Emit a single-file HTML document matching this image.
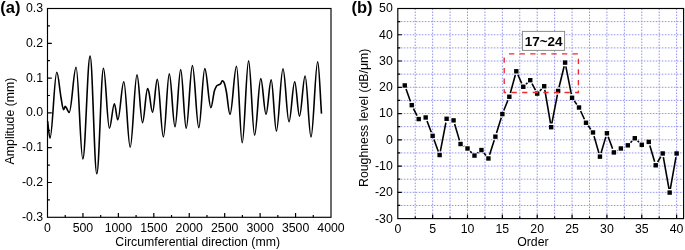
<!DOCTYPE html>
<html><head><meta charset="utf-8"><style>
html,body{margin:0;padding:0;background:#fff;}
svg{display:block;will-change:transform;}
text{font-family:"Liberation Sans", sans-serif;font-size:12.3px;fill:#000;}
</style></head><body>
<svg width="685" height="250" viewBox="0 0 685 250">
<rect width="685" height="250" fill="#fff"/>
<path d="M65.22 217.30V214.90M82.94 217.30V213.00M100.66 217.30V214.90M118.38 217.30V213.00M136.09 217.30V214.90M153.81 217.30V213.00M171.53 217.30V214.90M189.25 217.30V213.00M206.97 217.30V214.90M224.69 217.30V213.00M242.41 217.30V214.90M260.12 217.30V213.00M277.84 217.30V214.90M295.56 217.30V213.00M313.28 217.30V214.90M47.50 199.90H49.90M47.50 182.50H51.80M47.50 165.10H49.90M47.50 147.70H51.80M47.50 130.30H49.90M47.50 112.90H51.80M47.50 95.50H49.90M47.50 78.10H51.80M47.50 60.70H49.90M47.50 43.30H51.80M47.50 25.90H49.90" stroke="#000" stroke-width="1.2" fill="none"/>
<rect x="47.5" y="8.5" width="283.50" height="208.80" fill="none" stroke="#000" stroke-width="1.15"/>
<text x="47.50" y="232.1" text-anchor="middle">0</text>
<text x="82.94" y="232.1" text-anchor="middle">500</text>
<text x="118.38" y="232.1" text-anchor="middle">1000</text>
<text x="153.81" y="232.1" text-anchor="middle">1500</text>
<text x="189.25" y="232.1" text-anchor="middle">2000</text>
<text x="224.69" y="232.1" text-anchor="middle">2500</text>
<text x="260.12" y="232.1" text-anchor="middle">3000</text>
<text x="295.56" y="232.1" text-anchor="middle">3500</text>
<text x="331.00" y="232.1" text-anchor="middle">4000</text>
<text x="43.1" y="220.80" text-anchor="end">-0.3</text>
<text x="43.1" y="186.00" text-anchor="end">-0.2</text>
<text x="43.1" y="151.20" text-anchor="end">-0.1</text>
<text x="43.1" y="116.40" text-anchor="end">0.0</text>
<text x="43.1" y="81.60" text-anchor="end">0.1</text>
<text x="43.1" y="46.80" text-anchor="end">0.2</text>
<text x="43.1" y="12.00" text-anchor="end">0.3</text>
<text x="197.7" y="246.1" text-anchor="middle">Circumferential direction (mm)</text>
<text transform="translate(14.2 121) rotate(-90)" text-anchor="middle">Amplitude (mm)</text>
<text x="0.3" y="13.0" style="font-weight:bold;font-size:16.5px">(a)</text>
<path d="M47.60 121.00C48.40 126.73 49.14 138.20 50.00 138.20C52.45 138.20 54.35 72.30 56.80 72.30C58.31 72.30 59.60 89.78 61.00 97.50C61.87 102.28 62.66 109.80 63.60 109.80C64.18 109.80 64.62 106.30 65.20 106.30C65.67 106.30 66.07 107.34 66.50 108.00C67.40 109.37 68.23 112.40 69.20 112.40C71.68 112.40 73.62 67.30 76.10 67.30C78.51 67.30 80.39 159.00 82.80 159.00C85.43 159.00 87.47 56.10 90.10 56.10C92.51 56.10 94.39 173.80 96.80 173.80C99.21 173.80 101.09 68.20 103.50 68.20C105.62 68.20 107.28 128.20 109.40 128.20C111.20 128.20 112.60 103.80 114.40 103.80C115.62 103.80 116.58 119.80 117.80 119.80C119.96 119.80 121.64 81.70 123.80 81.70C126.10 81.70 127.90 147.20 130.20 147.20C132.65 147.20 134.55 74.90 137.00 74.90C138.98 74.90 140.52 122.60 142.50 122.60C144.34 122.60 145.76 88.60 147.60 88.60C148.18 88.60 148.67 90.92 149.20 93.50C150.30 98.82 151.31 112.30 152.50 112.30C154.23 112.30 155.57 79.40 157.30 79.40C159.50 79.40 161.20 137.00 163.40 137.00C165.52 137.00 167.18 73.90 169.30 73.90C171.35 73.90 172.95 126.80 175.00 126.80C177.05 126.80 178.65 69.50 180.70 69.50C182.68 69.50 184.22 128.20 186.20 128.20C188.43 128.20 190.17 65.60 192.40 65.60C194.70 65.60 196.50 127.60 198.80 127.60C200.96 127.60 202.64 68.60 204.80 68.60C207.00 68.60 208.70 107.60 210.90 107.60C212.12 107.60 213.17 95.63 214.30 91.20C214.97 88.60 215.63 87.64 216.30 86.50C216.80 85.64 217.30 85.52 217.80 85.20C218.30 84.88 218.80 84.90 219.30 84.60C219.80 84.30 220.30 84.06 220.80 83.40C221.27 82.79 221.70 80.80 222.20 80.80C222.56 80.80 222.87 80.85 223.20 81.30C223.70 81.98 224.20 82.50 224.70 84.20C225.30 86.24 225.90 89.08 226.50 92.50C227.67 99.15 228.74 114.40 230.00 114.40C232.34 114.40 234.16 66.30 236.50 66.30C238.55 66.30 240.15 142.80 242.20 142.80C244.50 142.80 246.30 60.90 248.60 60.90C250.76 60.90 252.44 135.20 254.60 135.20C256.83 135.20 258.57 78.60 260.80 78.60C262.67 78.60 264.13 114.20 266.00 114.20C267.87 114.20 269.33 79.90 271.20 79.90C273.07 79.90 274.53 131.00 276.40 131.00C278.78 131.00 280.62 68.70 283.00 68.70C285.16 68.70 286.84 121.80 289.00 121.80C291.05 121.80 292.65 81.70 294.70 81.70C296.43 81.70 297.77 116.10 299.50 116.10C301.52 116.10 303.08 76.00 305.10 76.00C307.22 76.00 308.88 137.00 311.00 137.00C313.41 137.00 315.29 61.70 317.70 61.70C319.07 61.70 320.23 96.30 321.50 113.60" stroke="#000" stroke-width="1.6" fill="none" stroke-linejoin="round"/>
<path d="M415.23 8.50V218.60M432.65 8.50V218.60M450.08 8.50V218.60M467.51 8.50V218.60M484.93 8.50V218.60M502.36 8.50V218.60M519.79 8.50V218.60M537.21 8.50V218.60M554.64 8.50V218.60M572.07 8.50V218.60M589.50 8.50V218.60M606.92 8.50V218.60M624.35 8.50V218.60M641.78 8.50V218.60M659.20 8.50V218.60M676.63 8.50V218.60" stroke="#9494ee" stroke-width="1" stroke-dasharray="1.6 1.4" fill="none"/>
<path d="M397.80 205.47H683.60M397.80 192.34H683.60M397.80 179.21H683.60M397.80 166.07H683.60M397.80 152.94H683.60M397.80 139.81H683.60M397.80 126.68H683.60M397.80 113.55H683.60M397.80 100.42H683.60M397.80 87.29H683.60M397.80 74.16H683.60M397.80 61.02H683.60M397.80 47.89H683.60M397.80 34.76H683.60M397.80 21.63H683.60" stroke="#9494ee" stroke-width="1" stroke-dasharray="1.6 1.4" fill="none"/>
<path d="M415.23 218.60V216.40M432.65 218.60V214.60M450.08 218.60V216.40M467.51 218.60V214.60M484.93 218.60V216.40M502.36 218.60V214.60M519.79 218.60V216.40M537.21 218.60V214.60M554.64 218.60V216.40M572.07 218.60V214.60M589.50 218.60V216.40M606.92 218.60V214.60M624.35 218.60V216.40M641.78 218.60V214.60M659.20 218.60V216.40M676.63 218.60V214.60M397.80 205.47H400.20M397.80 192.34H401.80M397.80 179.21H400.20M397.80 166.07H401.80M397.80 152.94H400.20M397.80 139.81H401.80M397.80 126.68H400.20M397.80 113.55H401.80M397.80 100.42H400.20M397.80 87.29H401.80M397.80 74.16H400.20M397.80 61.02H401.80M397.80 47.89H400.20M397.80 34.76H401.80M397.80 21.63H400.20" stroke="#000" stroke-width="1.2" fill="none"/>
<rect x="397.8" y="8.5" width="285.80" height="210.10" fill="none" stroke="#000" stroke-width="1.15"/>
<text x="397.80" y="232.9" text-anchor="middle">0</text>
<text x="432.65" y="232.9" text-anchor="middle">5</text>
<text x="467.51" y="232.9" text-anchor="middle">10</text>
<text x="502.36" y="232.9" text-anchor="middle">15</text>
<text x="537.21" y="232.9" text-anchor="middle">20</text>
<text x="572.07" y="232.9" text-anchor="middle">25</text>
<text x="606.92" y="232.9" text-anchor="middle">30</text>
<text x="641.78" y="232.9" text-anchor="middle">35</text>
<text x="676.63" y="232.9" text-anchor="middle">40</text>
<text x="392.8" y="222.50" text-anchor="end">-30</text>
<text x="392.8" y="196.24" text-anchor="end">-20</text>
<text x="392.8" y="169.97" text-anchor="end">-10</text>
<text x="392.8" y="143.71" text-anchor="end">0</text>
<text x="392.8" y="117.45" text-anchor="end">10</text>
<text x="392.8" y="91.19" text-anchor="end">20</text>
<text x="392.8" y="64.92" text-anchor="end">30</text>
<text x="392.8" y="38.66" text-anchor="end">40</text>
<text x="392.8" y="12.40" text-anchor="end">50</text>
<text x="532.9" y="246.4" text-anchor="middle">Order</text>
<text transform="translate(367.6 117.8) rotate(-90)" text-anchor="middle">Roughness level (dB/μm)</text>
<text x="351.5" y="13.0" style="font-weight:bold;font-size:16.5px">(b)</text>
<path d="M406.04 89.03L410.47 101.56M413.44 108.54L417.01 115.67M427.03 121.04L431.31 132.32M433.95 139.44L438.33 151.47M440.34 151.31L445.88 122.53M454.64 124.02L459.46 140.37M463.74 146.06L464.31 146.43M470.17 151.19L471.81 152.86M477.46 153.21L478.47 152.41M483.87 152.98L485.99 155.53M489.58 154.84L494.23 140.28M496.51 133.03L501.24 117.71M503.78 110.55L507.91 100.27M510.33 93.08L515.30 74.93M517.86 74.73L521.71 83.30M526.04 84.16L527.48 82.80M532.00 83.57L535.46 90.22M539.83 90.83L541.57 88.99M544.82 89.98L550.52 123.46M551.87 123.47L557.41 94.70M559.03 87.27L564.19 66.29M565.84 66.33L571.33 94.06M574.28 100.88L576.82 104.42M580.62 110.96L584.43 119.29M588.22 125.83L590.77 129.37M594.03 136.11L598.90 152.97M601.04 152.98L605.84 136.89M608.22 136.82L612.59 148.85M617.20 150.55L617.56 150.35M624.33 146.91L624.37 146.89M630.50 142.62L632.14 140.95M637.57 140.84L639.01 142.20M649.83 145.56L654.63 161.65M657.65 162.01L660.76 156.74M663.35 157.21L668.99 188.86M670.32 188.86L675.96 157.21" stroke="#000" stroke-width="1.6" fill="none"/>
<g fill="#000"><rect x="402.57" y="83.25" width="4.4" height="4.4"/><rect x="409.54" y="102.95" width="4.4" height="4.4"/><rect x="416.51" y="116.87" width="4.4" height="4.4"/><rect x="423.48" y="115.29" width="4.4" height="4.4"/><rect x="430.45" y="133.67" width="4.4" height="4.4"/><rect x="437.42" y="152.84" width="4.4" height="4.4"/><rect x="444.40" y="116.60" width="4.4" height="4.4"/><rect x="451.37" y="118.18" width="4.4" height="4.4"/><rect x="458.34" y="141.81" width="4.4" height="4.4"/><rect x="465.31" y="146.28" width="4.4" height="4.4"/><rect x="472.28" y="153.37" width="4.4" height="4.4"/><rect x="479.25" y="147.85" width="4.4" height="4.4"/><rect x="486.22" y="156.26" width="4.4" height="4.4"/><rect x="493.19" y="134.46" width="4.4" height="4.4"/><rect x="500.16" y="111.88" width="4.4" height="4.4"/><rect x="507.13" y="94.54" width="4.4" height="4.4"/><rect x="514.10" y="69.07" width="4.4" height="4.4"/><rect x="521.07" y="84.56" width="4.4" height="4.4"/><rect x="528.04" y="78.00" width="4.4" height="4.4"/><rect x="535.01" y="91.39" width="4.4" height="4.4"/><rect x="541.99" y="84.04" width="4.4" height="4.4"/><rect x="548.96" y="125.01" width="4.4" height="4.4"/><rect x="555.93" y="88.76" width="4.4" height="4.4"/><rect x="562.90" y="60.40" width="4.4" height="4.4"/><rect x="569.87" y="95.59" width="4.4" height="4.4"/><rect x="576.84" y="105.31" width="4.4" height="4.4"/><rect x="583.81" y="120.54" width="4.4" height="4.4"/><rect x="590.78" y="130.26" width="4.4" height="4.4"/><rect x="597.75" y="154.42" width="4.4" height="4.4"/><rect x="604.72" y="131.05" width="4.4" height="4.4"/><rect x="611.69" y="150.22" width="4.4" height="4.4"/><rect x="618.66" y="146.28" width="4.4" height="4.4"/><rect x="625.63" y="143.13" width="4.4" height="4.4"/><rect x="632.60" y="136.04" width="4.4" height="4.4"/><rect x="639.58" y="142.60" width="4.4" height="4.4"/><rect x="646.55" y="139.71" width="4.4" height="4.4"/><rect x="653.52" y="163.09" width="4.4" height="4.4"/><rect x="660.49" y="151.27" width="4.4" height="4.4"/><rect x="667.46" y="190.40" width="4.4" height="4.4"/><rect x="674.43" y="151.27" width="4.4" height="4.4"/></g>
<path d="M504.2 53.9H578.4V92.5H504.2Z" fill="none" stroke="#ee2a2f" stroke-width="1.35" stroke-dasharray="5.3 5.3" stroke-dashoffset="5.8"/>
<rect x="522.4" y="31.4" width="42.2" height="19" fill="#fff" stroke="#8a8a8a" stroke-width="1"/>
<text x="543.6" y="46.2" text-anchor="middle" style="font-weight:bold;font-size:13.5px">17~24</text>
</svg>
</body></html>
